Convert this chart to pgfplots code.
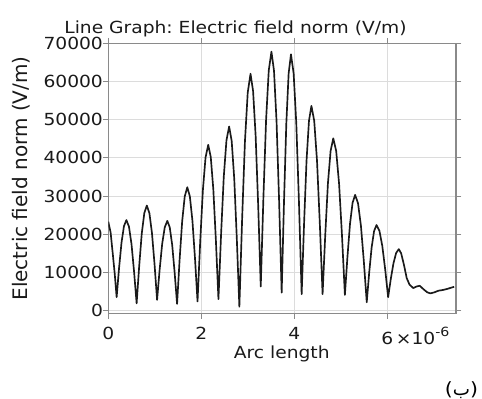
\documentclass[border=0pt]{standalone}
\usepackage{fontspec}
\setmainfont{DejaVu Sans}[FakeStretch=1.12]
\newfontfamily\plainfont{DejaVu Sans}
\newfontfamily\arabicfont[Script=Arabic]{DejaVu Sans}
\TeXXeTstate=1
\usepackage{pgfplots}
\pgfplotsset{compat=1.18}
\definecolor{txt}{HTML}{1A1A1A}
\definecolor{frame}{HTML}{8A8A8A}
\definecolor{gridc}{HTML}{DCDCDC}
\frenchspacing
\begin{document}
\begin{tikzpicture}
\path[use as bounding box] (0,0) rectangle (361.5pt,299.25pt);
\begin{axis}[
  at={(81.2pt,64.3pt)}, anchor=south west,
  scale only axis, width=260.8pt, height=202.5pt,
  xmin=0, xmax=7.48, ymin=-700, ymax=70000,
  xtick={0,2,4,6},
  xticklabels={0,2,4,{6\rlap{\,×10\raisebox{5.7pt}{\fontsize{9.5}{10}\selectfont -6}}}},
  ytick={0,10000,20000,30000,40000,50000,60000,70000},
  scaled y ticks=false,
  /pgf/number format/assume math mode=true,
  /pgf/number format/1000 sep={},
  /pgf/number format/fixed,
  grid=major, grid style={gridc, line width=0.6pt},
  axis line style={frame, line width=0.8pt},
  tick style={frame, line width=0.6pt},
  tick align=outside, tick pos=both, major tick length=4pt,
  ticklabel style={font=\fontsize{12.5}{15}\selectfont, text=txt},
  xticklabel style={yshift=-3.2pt},
  yticklabel style={xshift=3.5pt},
  clip=true,
]
\addplot[color=txt, line width=1.25pt, line join=round] coordinates {
(0.00,23300) (0.05,20500) (0.10,14500) (0.14,9500) (0.18,3500)
(0.2325,11200) (0.285,17800) (0.3375,22100) (0.39,23700)
(0.445,22000) (0.50,17400) (0.555,10200) (0.61,1900)
(0.665,11600) (0.72,20100) (0.775,25500) (0.83,27500)
(0.885,25500) (0.94,20300) (0.995,12200) (1.05,2800)
(1.105,10700) (1.16,17500) (1.215,21800) (1.27,23500)
(1.3225,21800) (1.375,17200) (1.4275,10000) (1.48,1750)
(1.535,13400) (1.59,23400) (1.645,29900) (1.70,32300)
(1.755,29900) (1.81,23600) (1.865,13800) (1.92,2400)
(1.9775,18000) (2.035,31500) (2.0925,40100) (2.15,43400)
(2.205,40200) (2.26,31700) (2.315,18400) (2.37,3000)
(2.4275,20200) (2.485,35100) (2.5425,44600) (2.60,48200)
(2.655,44400) (2.71,34500) (2.765,18900) (2.82,1000)
(2.88,24200) (2.94,44300) (3.00,57100) (3.06,62000)
(3.115,57500) (3.17,45800) (3.225,27500) (3.28,6300)
(3.3375,29700) (3.395,50000) (3.4525,62900) (3.51,67800)
(3.565,62800) (3.62,49500) (3.675,28700) (3.73,4700)
(3.78,28400) (3.83,49000) (3.88,62100) (3.93,67100)
(3.9875,62100) (4.045,48900) (4.1025,28200) (4.16,4300)
(4.2125,23000) (4.265,39300) (4.3175,49700) (4.37,53600)
(4.43,49700) (4.49,39300) (4.55,23000) (4.61,4300)
(4.6675,19800) (4.725,33300) (4.7825,41800) (4.84,45100)
(4.9025,41800) (4.965,33200) (5.0275,19700) (5.09,4100)
(5.145,14100) (5.20,22700) (5.255,28200) (5.31,30300)
(5.3725,28100) (5.435,22200) (5.4975,12900) (5.56,2200)
(5.6125,9900) (5.665,16500) (5.7175,20800) (5.77,22400)
(5.8325,20900) (5.895,16900) (5.9575,10700) (6.02,3500)
(6.0775,8300) (6.135,12400) (6.1925,15100) (6.25,16100)
(6.30,15000) (6.36,12000) (6.42,8500) (6.48,6800) (6.56,5900)
(6.63,6300) (6.70,6500) (6.78,5600) (6.86,4800) (6.93,4500)
(7.02,4800) (7.10,5200) (7.20,5400) (7.30,5700) (7.40,6100) (7.44,6200)
};
\end{axis}
\node[anchor=base, text=txt, font=\fontsize{12.5}{15}\selectfont] at (176.6pt,274.3pt) {Line Graph: Electric field norm (V/m)};
\node[rotate=90, text=txt, font=\plainfont\fontsize{15}{17}\selectfont] at (15.75pt,165.4pt) {Electric field norm (V/m)};
\node[anchor=base, text=txt, font=\fontsize{12.5}{15}\selectfont] at (211.3pt,30.5pt) {Arc length};
\node[anchor=base east, inner sep=0pt, text=black, font=\fontsize{13.7}{16}\selectfont] at (358.7pt,2.6pt) {({\arabicfont\beginR ب\endR})};
\end{tikzpicture}
\end{document}
